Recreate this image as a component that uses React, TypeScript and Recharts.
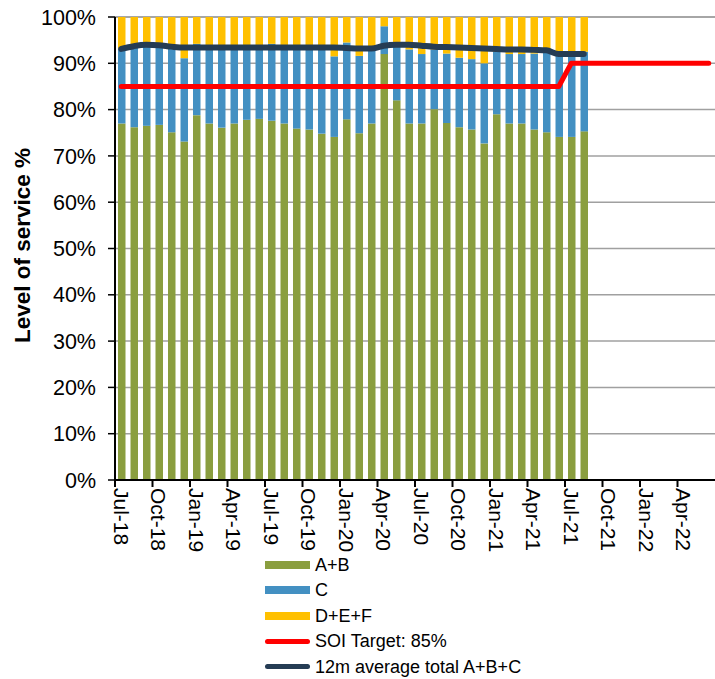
import React from 'react';
import { ComposedChart, Bar, Line, XAxis, YAxis, CartesianGrid, Legend } from 'recharts';

// Categories (monthly), Jul-18 .. Jun-22
const months = [
  'Jul-18', 'Aug-18', 'Sep-18', 'Oct-18', 'Nov-18', 'Dec-18',
  'Jan-19', 'Feb-19', 'Mar-19', 'Apr-19', 'May-19', 'Jun-19',
  'Jul-19', 'Aug-19', 'Sep-19', 'Oct-19', 'Nov-19', 'Dec-19',
  'Jan-20', 'Feb-20', 'Mar-20', 'Apr-20', 'May-20', 'Jun-20',
  'Jul-20', 'Aug-20', 'Sep-20', 'Oct-20', 'Nov-20', 'Dec-20',
  'Jan-21', 'Feb-21', 'Mar-21', 'Apr-21', 'May-21', 'Jun-21',
  'Jul-21', 'Aug-21', 'Sep-21', 'Oct-21', 'Nov-21', 'Dec-21',
  'Jan-22', 'Feb-22', 'Mar-22', 'Apr-22', 'May-22', 'Jun-22',
];

// A+B share (%)
const abValues = [
  77.0, 76.2, 76.5, 76.7, 75.1, 73.1,
  78.8, 77.0, 76.1, 77.0, 77.8, 78.0,
  77.6, 77.0, 75.9, 75.7, 74.8, 74.1,
  77.9, 74.9, 77.0, 92.0, 82.0, 77.0,
  77.0, 80.1, 77.1, 76.2, 75.7, 72.7,
  79.0, 77.0, 77.0, 75.7, 75.1, 74.1,
  74.1, 75.3,
];

// C share (%)
const cValues = [
  16.2, 17.6, 17.5, 17.2, 18.4, 18.0,
  15.4, 16.3, 17.2, 16.3, 15.6, 15.4,
  16.6, 16.3, 17.4, 17.6, 18.4, 17.4,
  16.6, 16.7, 16.0, 6.0, 11.8, 16.0,
  15.0, 12.9, 15.0, 15.0, 15.2, 17.3,
  13.5, 15.0, 15.0, 16.4, 17.2, 17.7,
  17.9, 17.2,
];

// D+E+F share (%)
const defValues = [
  6.8, 6.2, 6.0, 6.1, 6.5, 8.9,
  5.8, 6.7, 6.7, 6.7, 6.6, 6.6,
  5.8, 6.7, 6.7, 6.7, 6.8, 8.5,
  5.5, 8.4, 7.0, 2.0, 6.2, 7.0,
  8.0, 7.0, 7.9, 8.8, 9.1, 10.0,
  7.5, 8.0, 8.0, 7.9, 7.7, 8.2,
  8.0, 7.5,
];

// SOI target (%)
const targetValues = [
  85, 85, 85, 85, 85, 85,
  85, 85, 85, 85, 85, 85,
  85, 85, 85, 85, 85, 85,
  85, 85, 85, 85, 85, 85,
  85, 85, 85, 85, 85, 85,
  85, 85, 85, 85, 85, 85,
  90, 90, 90, 90, 90, 90,
  90, 90, 90, 90, 90, 90,
];

// 12m average total A+B+C (%)
const avgValues = [
  93.1, 93.7, 94.0, 93.9, 93.6, 93.4,
  93.4, 93.4, 93.4, 93.4, 93.4, 93.4,
  93.4, 93.4, 93.4, 93.4, 93.4, 93.4,
  93.3, 93.2, 93.2, 93.8, 94.0, 94.0,
  93.8, 93.6, 93.5, 93.4, 93.3, 93.2,
  93.1, 93.0, 93.0, 92.9, 92.8, 92.0,
  92.0, 92.0,
];

const yTicks = [0, 10, 20, 30, 40, 50, 60, 70, 80, 90, 100];

const seriesNames = ['A+B', 'C', 'D+E+F', 'SOI Target: 85%', '12m average total A+B+C'];
const yAxisTitle = 'Level of service %';

const GREEN = '#8A9E3F';
const BLUE = '#4390C2';
const YELLOW = '#FFC000';
const RED = '#FF0000';
const NAVY = '#253C54';
const FONT = '"Liberation Sans", Arial, sans-serif';

const data = months.map((month, i) => ({
  month,
  ab: abValues[i],
  c: cValues[i],
  def: defValues[i],
  target: targetValues[i],
  avg: avgValues[i],
}));

const W = 715;
const H = 679;
const MARGIN = { top: 17, right: 0, bottom: 124, left: 0 };
const Y_AXIS_W = 115;
const X_AXIS_H = 75;
const PLOT_W = W - MARGIN.left - MARGIN.right - Y_AXIS_W;
const HALF_BAND = PLOT_W / months.length / 2;

const XTick = (props: any) => {
  const { x, y, payload } = props;
  const ty = y + 8;
  return (
    <g>
      <line x1={x - HALF_BAND} x2={x - HALF_BAND} y1={y} y2={y + 7} stroke="#000" strokeWidth={2} />
      <text
        x={x}
        y={ty}
        transform={`rotate(90, ${x}, ${ty})`}
        textAnchor="start"
        dominantBaseline="central"
        fontSize={21}
        fontFamily={FONT}
        fill="#000"
      >
        {payload.value}
      </text>
    </g>
  );
};

const YLabel = (props: any) => {
  const vb = props.viewBox || {};
  const cy = (vb.y ?? 17) + (vb.height ?? 463) / 2 - 3;
  const cx = 22;
  return (
    <text
      x={cx}
      y={cy}
      transform={`rotate(-90, ${cx}, ${cy})`}
      textAnchor="middle"
      dominantBaseline="central"
      fontSize={22.5}
      fontWeight="bold"
      fontFamily={FONT}
      fill="#000"
    >
      {yAxisTitle}
    </text>
  );
};

const legendItems = [
  { name: seriesNames[0], color: GREEN, kind: 'bar' },
  { name: seriesNames[1], color: BLUE, kind: 'bar' },
  { name: seriesNames[2], color: YELLOW, kind: 'bar' },
  { name: seriesNames[3], color: RED, kind: 'line' },
  { name: seriesNames[4], color: NAVY, kind: 'line' },
];

const LegendContent = () => (
  <div style={{ fontFamily: FONT, fontSize: 18, color: '#000', lineHeight: 1 }}>
    {legendItems.map((it) => (
      <div key={it.name} style={{ display: 'flex', alignItems: 'center', height: 25.5 }}>
        <span
          style={{
            display: 'inline-block',
            width: 45,
            height: it.kind === 'bar' ? 8 : 5,
            background: it.color,
            borderRadius: it.kind === 'line' ? 3 : 0,
            marginRight: 5,
          }}
        />
        <span>{it.name}</span>
      </div>
    ))}
  </div>
);

export default function App() {
  return (
    <div style={{ position: 'absolute', left: 0, top: 0, width: W, height: H, background: '#fff' }}>
      <ComposedChart width={W} height={H} data={data} margin={MARGIN} barSize={7.5}>
        <CartesianGrid vertical={false} stroke="#A0A0A0" strokeWidth={1.5} />
        <XAxis
          dataKey="month"
          height={X_AXIS_H}
          interval={2}
          tickLine={false}
          tickSize={0}
          tickMargin={0}
          axisLine={{ stroke: '#000', strokeWidth: 2 }}
          tick={<XTick />}
        />
        <YAxis
          width={Y_AXIS_W}
          domain={[0, 100]}
          ticks={yTicks}
          interval={0}
          tickFormatter={(v: number) => `${v}%`}
          tickSize={7}
          tickMargin={12}
          tickLine={{ stroke: '#000', strokeWidth: 1.5 }}
          axisLine={{ stroke: '#000', strokeWidth: 2 }}
          tick={{ fontSize: 21.5, fontFamily: FONT, fill: '#000' }}
          label={<YLabel />}
        />
        <Bar dataKey="ab" name={seriesNames[0]} stackId="s" fill={GREEN} isAnimationActive={false} />
        <Bar dataKey="c" name={seriesNames[1]} stackId="s" fill={BLUE} isAnimationActive={false} />
        <Bar dataKey="def" name={seriesNames[2]} stackId="s" fill={YELLOW} isAnimationActive={false} />
        <Line
          dataKey="target"
          name={seriesNames[3]}
          type="linear"
          stroke={RED}
          strokeWidth={5}
          strokeLinecap="round"
          strokeLinejoin="round"
          dot={false}
          activeDot={false}
          isAnimationActive={false}
        />
        <Line
          dataKey="avg"
          name={seriesNames[4]}
          type="monotone"
          stroke={NAVY}
          strokeWidth={6}
          strokeLinecap="round"
          strokeLinejoin="round"
          dot={false}
          activeDot={false}
          connectNulls={false}
          isAnimationActive={false}
        />
        <Legend
          layout="vertical"
          align="center"
          verticalAlign="middle"
          content={<LegendContent />}
          wrapperStyle={{ position: 'absolute', left: 265, top: 552, width: 320 }}
        />
      </ComposedChart>
    </div>
  );
}
